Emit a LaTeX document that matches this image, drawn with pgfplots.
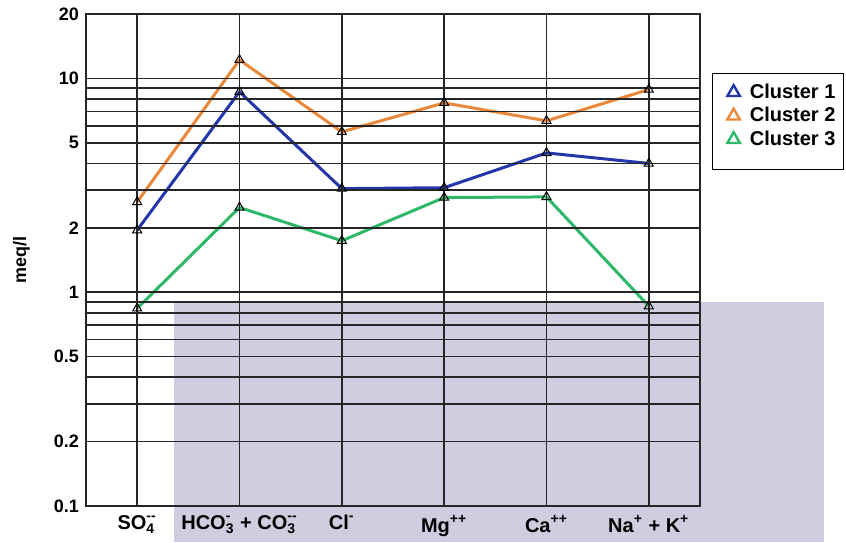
\documentclass[border=0pt]{standalone}
\usepackage{fontspec}
\setmainfont{Liberation Sans}
\usepackage{amsmath}
\usepackage{pgfplots}
\pgfplotsset{compat=1.18}
\definecolor{c1}{RGB}{35,55,170}
\definecolor{c2}{RGB}{232,136,58}
\definecolor{c3}{RGB}{46,184,106}
\definecolor{wm}{RGB}{206,206,224}
\begin{document}
\begin{tikzpicture}
\useasboundingbox (-43pt,-18pt) rectangle (380pt,253pt);
\begin{axis}[
  axis on top, clip=false,
  at={(0,0)}, anchor=south west,
  scale only axis, width=307pt, height=246pt,
  ymode=log, ymin=0.1, ymax=20,
  xmin=-0.5, xmax=5.5,
  xtick={0,1,2,3,4,5},
  xticklabels={
    {$\text{\bfseries SO}_{\text{\bfseries 4}}^{\text{\bfseries -{}-}}$},
    {$\text{\bfseries HCO}_{\text{\bfseries 3}}^{\text{\bfseries -}}$\textbf{ + }$\text{\bfseries CO}_{\text{\bfseries 3}}^{\text{\bfseries -{}-}}$},
    {$\text{\bfseries Cl}^{\text{\bfseries -}}$},
    {$\text{\bfseries Mg}^{\text{\bfseries ++}}$},
    {$\text{\bfseries Ca}^{\text{\bfseries ++}}$},
    {$\text{\bfseries Na}^{\text{\bfseries +}}$\textbf{ + }$\text{\bfseries K}^{\text{\bfseries +}}$}},
  ytick={0.1,0.2,0.5,1,2,5,10,20},
  yticklabels={0.1,0.2,0.5,1,2,5,10,20},
  minor ytick={0.3,0.4,0.6,0.7,0.8,0.9,3,4,6,7,8,9},
  xmajorgrids, ymajorgrids, yminorgrids,
  major grid style={black!85, line width=0.85pt},
  minor grid style={black!85, line width=0.85pt},
  major tick length=0pt, minor tick length=0pt,
  axis line style={black!85, line width=0.85pt},
  yticklabel style={font=\bfseries\fontsize{9}{10}\selectfont},
  xticklabel style={font=\bfseries\fontsize{10}{11}\selectfont, yshift=-1pt},
  ylabel={meq/l},
  ylabel style={font=\bfseries\fontsize{9}{10}\selectfont, at={(axis description cs:-0.105,0.5)}, anchor=center},
  legend style={at={(axis description cs:1.0195,0.88)}, anchor=north west,
    font=\bfseries\fontsize{10}{11}\selectfont, draw=black, line width=0.6pt,
    inner xsep=2pt, inner ysep=3pt, row sep=-1pt},
  legend cell align=left,
]
\addplot[forget plot, fill=wm, draw=none] coordinates {(0.364,0.0679) (6.71,0.0679) (6.71,0.9) (0.364,0.9)} -- cycle;
\addlegendimage{only marks, mark=triangle*, mark size=3.6pt, mark options={draw=c1, fill=white, line width=1.2pt}}
\addlegendentry{\hspace{3pt}Cluster 1}
\addlegendimage{only marks, mark=triangle*, mark size=3.6pt, mark options={draw=c2, fill=white, line width=1.2pt}}
\addlegendentry{\hspace{3pt}Cluster 2}
\addlegendimage{only marks, mark=triangle*, mark size=3.6pt, mark options={draw=c3, fill=white, line width=1.2pt}}
\addlegendentry{\hspace{3pt}Cluster 3}
\addlegendimage{empty legend}
\addlegendentry[inner sep=0pt]{\rule{0pt}{5pt}}
\addplot[forget plot, c2, line width=1.5pt, mark=triangle, mark size=2.6pt, mark options={black, solid, line width=0.5pt}]
  coordinates {(0,2.64) (1,12.2) (2,5.62) (3,7.68) (4,6.33) (5,8.87)};
\addplot[forget plot, c1, line width=1.5pt, mark=triangle, mark size=2.6pt, mark options={black, solid, line width=0.5pt}]
  coordinates {(0,1.95) (1,8.65) (2,3.05) (3,3.08) (4,4.48) (5,4.0)};
\addplot[forget plot, c3, line width=1.5pt, mark=triangle, mark size=2.6pt, mark options={black, solid, line width=0.5pt}]
  coordinates {(0,0.84) (1,2.49) (2,1.74) (3,2.77) (4,2.79) (5,0.86)};
\end{axis}
\end{tikzpicture}
\end{document}
